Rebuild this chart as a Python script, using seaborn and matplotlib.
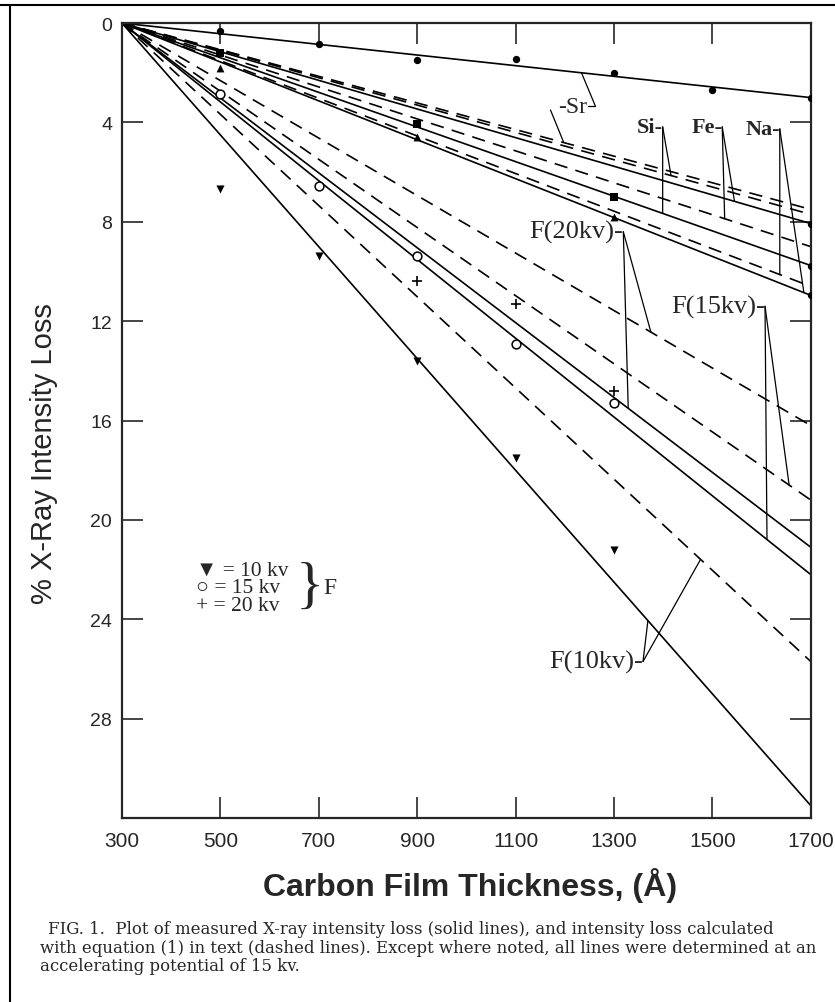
import matplotlib
matplotlib.use("Agg")
import numpy as np
import pandas as pd
import matplotlib.pyplot as plt
import seaborn as sns

# ---- data ----
X0, X1 = 300, 1700

# solid lines (measured), value of loss at 1700 A, all start at (300, 0)
measured_names = ["Sr", "Fe", "Si", "Na", "F(20kv)", "F(15kv)", "F(10kv)"]
measured_end = [3.0, 8.07, 9.76, 10.96, 21.1, 22.2, 31.5]

# dashed lines (calculated with equation 1)
calc_names = ["Sr", "Si", "Fe", "Na", "F(20kv)", "F(15kv)", "F(10kv)"]
calc_end = [7.5, 7.7, 9.0, 10.6, 16.2, 19.2, 25.7]

# measured points
sr_x = [500, 700, 900, 1100, 1300, 1500, 1700]
sr_y = [0.3, 0.85, 1.5, 1.45, 2.0, 2.7, 3.0]
si_x = [500, 900, 1300]
si_y = [1.2, 4.05, 7.0]
na_x = [500, 900, 1300]
na_y = [1.8, 4.6, 7.8]
end_x = [1700, 1700, 1700]
end_y = [8.07, 9.76, 10.96]
f10_x = [500, 700, 900, 1100, 1300]
f10_y = [6.67, 9.36, 13.6, 17.5, 21.2]
f15_x = [500, 700, 900, 1100, 1300]
f15_y = [2.85, 6.55, 9.36, 12.9, 15.3]
f20_x = [900, 1100, 1300]
f20_y = [10.4, 11.3, 14.8]

x_ticks = [300, 500, 700, 900, 1100, 1300, 1500, 1700]
y_ticks = [0, 4, 8, 12, 16, 20, 24, 28]

SERIF = ["Liberation Serif", "DejaVu Serif", "DejaVu Sans"]


def build_lines():
    rows = []
    for kind, names, ends in (("measured", measured_names, measured_end),
                              ("calculated", calc_names, calc_end)):
        for n, e in zip(names, ends):
            rows.append((kind + n, kind, X0, 0.0))
            rows.append((kind + n, kind, X1, e))
    return pd.DataFrame(rows, columns=["line", "kind", "thickness", "loss"])


def loss_at(kind, name, x):
    names, ends = (measured_names, measured_end) if kind == "measured" else (calc_names, calc_end)
    e = ends[names.index(name)]
    return e * (x - X0) / (X1 - X0)


sns.set_style("ticks")
plt.rcParams["font.family"] = ["Liberation Sans", "DejaVu Sans"]

fig = plt.figure(figsize=(8.35, 10.03), dpi=100)
ax = fig.add_axes([0.146, 0.1834, 0.825, 0.7926])

df = build_lines()
sns.lineplot(data=df, x="thickness", y="loss", units="line", style="kind",
             estimator=None, color="black", linewidth=1.2, legend=False,
             dashes={"measured": "", "calculated": (8, 5)}, ax=ax)

# markers
pts = dict(color="black", linewidth=0, legend=False, ax=ax, zorder=5)
sns.scatterplot(x=sr_x, y=sr_y, marker="o", s=28, **pts)
sns.scatterplot(x=si_x, y=si_y, marker="s", s=30, **pts)
sns.scatterplot(x=na_x, y=na_y, marker="^", s=32, **pts)
sns.scatterplot(x=end_x, y=end_y, marker="o", s=28, **pts)
sns.scatterplot(x=f10_x, y=f10_y, marker="v", s=34, **pts)
sns.scatterplot(x=f15_x, y=f15_y, marker="o", s=40, facecolor="white",
                edgecolor="black", linewidth=1.1, legend=False, ax=ax, zorder=5)
sns.scatterplot(x=f20_x, y=f20_y, marker="+", s=45, color="black",
                linewidth=1.2, legend=False, ax=ax, zorder=5)

# axes
ax.set_xlim(X0, X1)
ax.set_ylim(32, 0)
ax.set_xticks(x_ticks)
ax.set_yticks(y_ticks)
ax.set_xticklabels([str(t) for t in x_ticks])
ax.set_yticklabels([str(t) for t in y_ticks])
ax.tick_params(axis="both", direction="in", length=15, width=1.2,
               top=True, right=True)
ax.tick_params(axis="x", labelsize=15, pad=9)
ax.tick_params(axis="y", labelsize=14, pad=7)
for sp in ax.spines.values():
    sp.set_linewidth(1.6)

ax.set_ylabel("% X-Ray Intensity Loss", fontsize=21)
ax.yaxis.set_label_coords(-0.093, 0.46)
ax.set_xlabel("Carbon Film Thickness, (Å)", fontsize=23, fontweight="bold")
ax.xaxis.set_label_coords(0.505, -0.062)

# labels with leader lines
lead = dict(arrowprops=dict(arrowstyle="-", color="black", lw=0.9,
                            shrinkA=0, shrinkB=0))


def leader(text, jx, jy, targets, size=17, weight="normal"):
    ax.text(jx, jy, text + "-", ha="right", va="center", fontsize=size,
            fontweight=weight, family=SERIF)
    for kind, name, x in targets:
        ax.annotate("", xy=(x, loss_at(kind, name, x)), xytext=(jx, jy), **lead)


leader("Si", 1399, 4.18, [("measured", "Si", 1399), ("calculated", "Si", 1416)],
       size=16, weight="bold")
leader("Fe", 1520, 4.18, [("calculated", "Fe", 1525), ("measured", "Fe", 1545)],
       size=16, weight="bold")
leader("Na", 1637, 4.26, [("calculated", "Na", 1637), ("measured", "Na", 1686)],
       size=16, weight="bold")
leader("F(20kv)", 1319, 8.4, [("measured", "F(20kv)", 1329),
                              ("calculated", "F(20kv)", 1375)], size=19)
leader("F(15kv)", 1607, 11.4, [("measured", "F(15kv)", 1611),
                               ("calculated", "F(15kv)", 1656)], size=19)
leader("F(10kv)", 1359, 25.7, [("measured", "F(10kv)", 1369),
                               ("calculated", "F(10kv)", 1476)], size=19)

# Sr has leaders on both sides
ax.text(1216, 3.37, "-Sr", ha="center", va="center", fontsize=17, family=SERIF)
ax.annotate("", xy=(1198, loss_at("calculated", "Sr", 1198)), xytext=(1171, 3.5), **lead)
ax.annotate("", xy=(1234, loss_at("measured", "Sr", 1234)), xytext=(1262, 3.33), **lead)
ax.plot([1247, 1262], [3.33, 3.33], color="black", lw=0.9)

# symbol key
key = ["▼ = 10 kv", "○ = 15 kv", "+ = 20 kv"]
for i, s in enumerate(key):
    ax.text(0.108, 0.312 - i * 0.0225, s, transform=ax.transAxes, ha="left",
            va="center", fontsize=15.5, family=SERIF)
ax.text(0.252, 0.290, "}", transform=ax.transAxes, ha="left", va="center",
        fontsize=42, family=SERIF, fontweight="light")
ax.text(0.292, 0.290, "F", transform=ax.transAxes, ha="left", va="center",
        fontsize=17, family=SERIF)

# caption
cap = ["FIG. 1.  Plot of measured X-ray intensity loss (solid lines), and intensity loss calculated",
       "with equation (1) in text (dashed lines). Except where noted, all lines were determined at an",
       "accelerating potential of 15 kv."]
cap_x = [0.057, 0.048, 0.048]
for i, s in enumerate(cap):
    fig.text(cap_x[i], 0.0728 - i * 0.0182, s, ha="left", va="center",
             fontsize=11.9, family=["DejaVu Serif", "Liberation Serif"])

# page frame of the scan
fig.add_artist(plt.Line2D([0.0, 1.0], [0.994, 0.994], transform=fig.transFigure,
                          color="black", lw=1.5))
fig.add_artist(plt.Line2D([0.012, 0.012], [0.0, 0.994], transform=fig.transFigure,
                          color="black", lw=1.5))

fig.savefig("out.png", dpi=100)
